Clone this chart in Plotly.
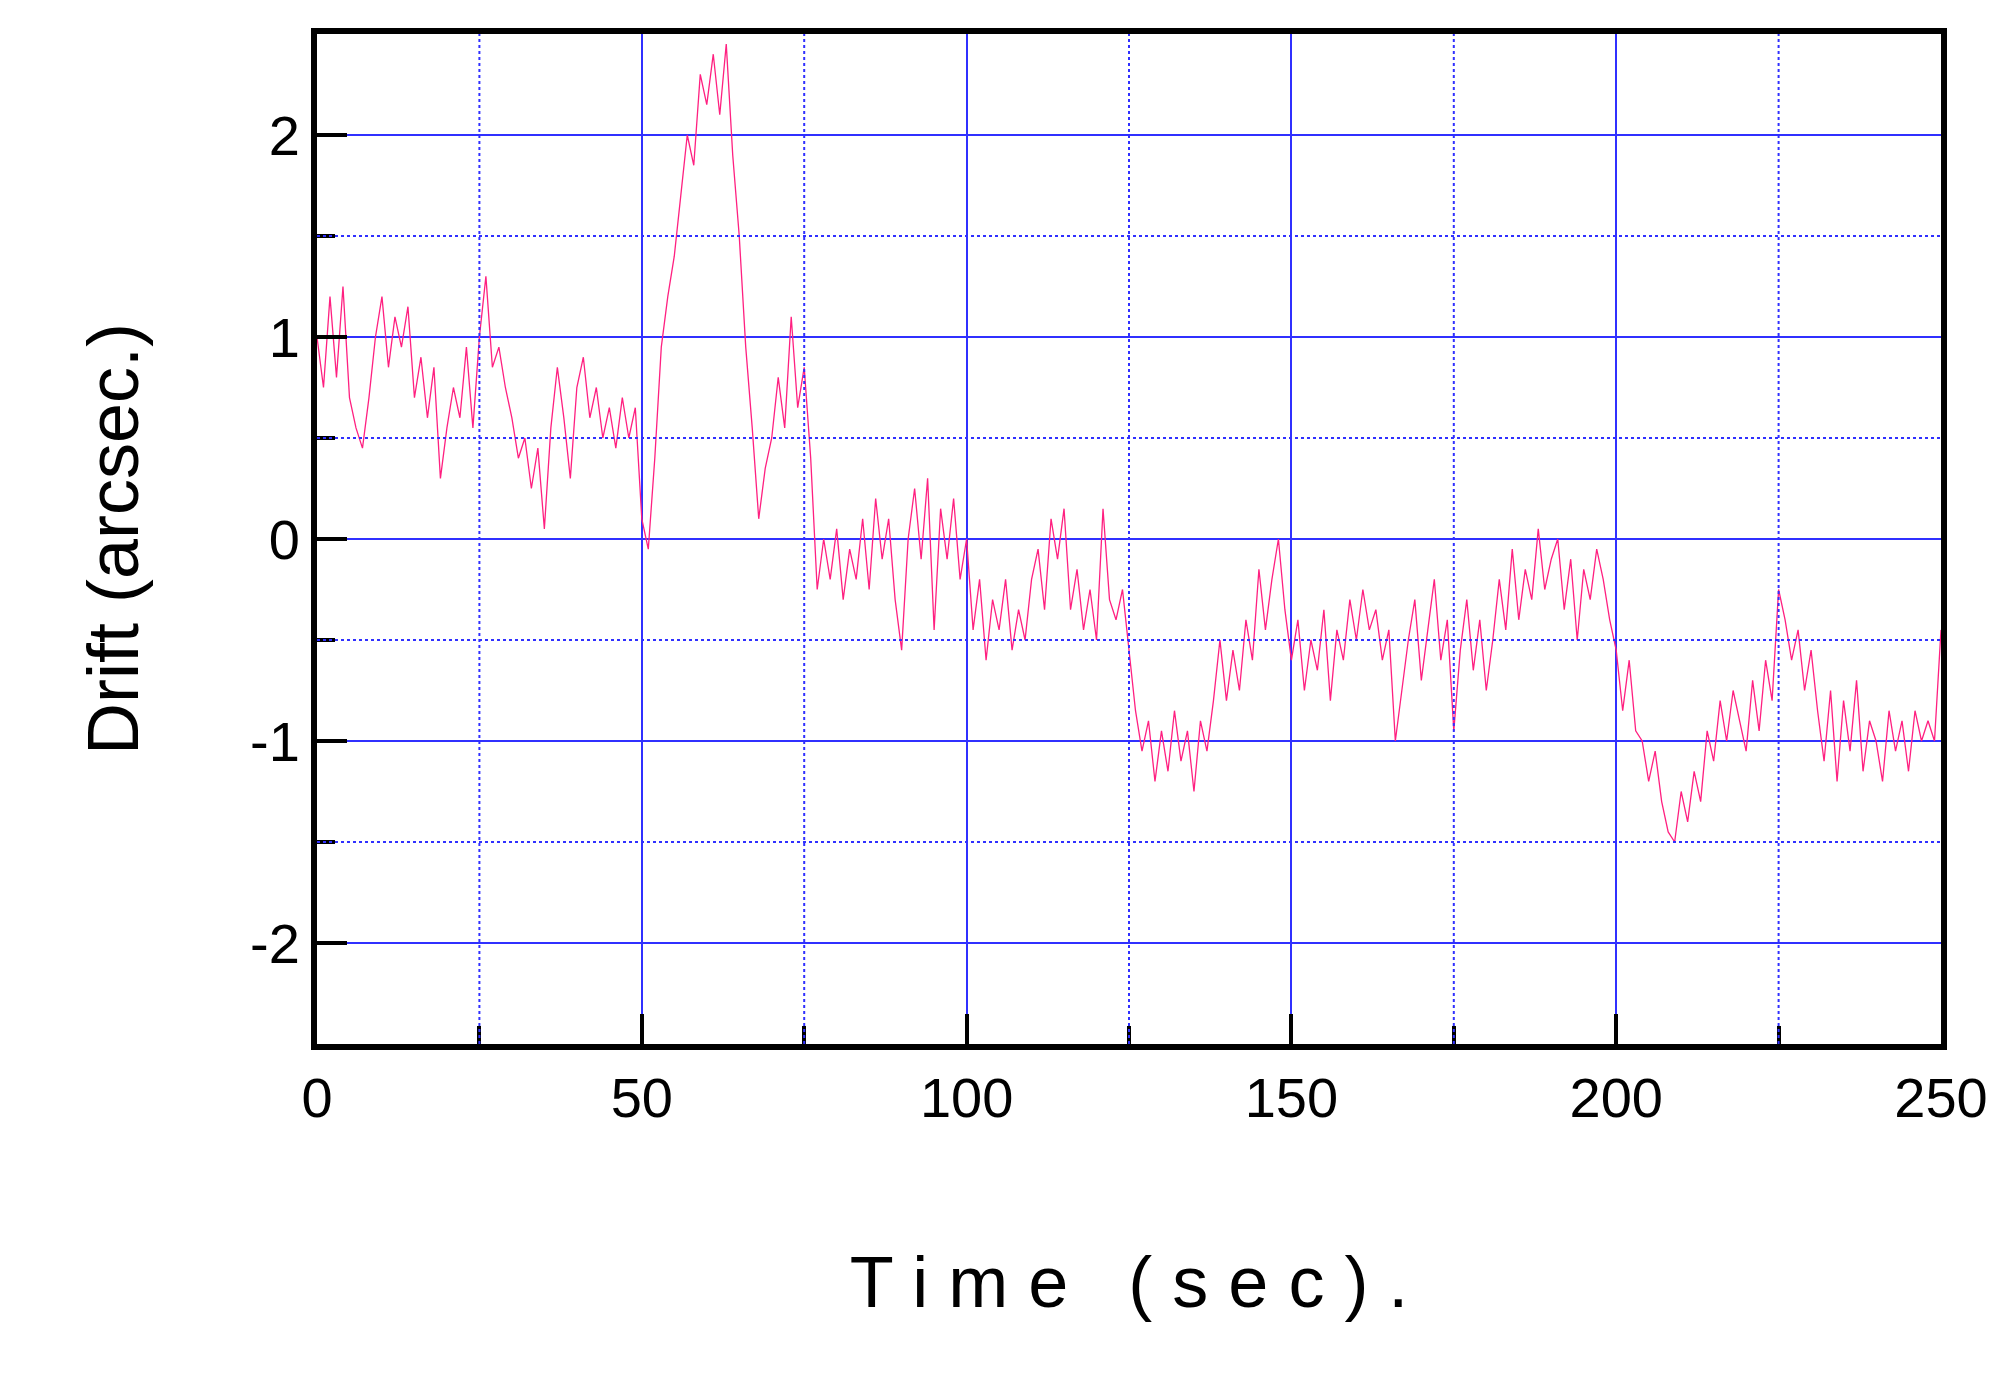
import plotly.graph_objects as go

# drift samples, one per second
time_s = list(range(0, 251))
drift = [
    1.0, 0.75, 1.2, 0.8, 1.25, 0.7, 0.55, 0.45, 0.7, 1.0,
    1.2, 0.85, 1.1, 0.95, 1.15, 0.7, 0.9, 0.6, 0.85, 0.3,
    0.55, 0.75, 0.6, 0.95, 0.55, 1.0, 1.3, 0.85, 0.95, 0.75,
    0.6, 0.4, 0.5, 0.25, 0.45, 0.05, 0.55, 0.85, 0.6, 0.3,
    0.75, 0.9, 0.6, 0.75, 0.5, 0.65, 0.45, 0.7, 0.5, 0.65,
    0.1, -0.05, 0.4, 0.95, 1.2, 1.4, 1.7, 2.0, 1.85, 2.3,
    2.15, 2.4, 2.1, 2.45, 1.9, 1.5, 0.95, 0.55, 0.1, 0.35,
    0.5, 0.8, 0.55, 1.1, 0.65, 0.85, 0.4, -0.25, 0.0, -0.2,
    0.05, -0.3, -0.05, -0.2, 0.1, -0.25, 0.2, -0.1, 0.1, -0.3,
    -0.55, 0.0, 0.25, -0.1, 0.3, -0.45, 0.15, -0.1, 0.2, -0.2,
    0.0, -0.45, -0.2, -0.6, -0.3, -0.45, -0.2, -0.55, -0.35, -0.5,
    -0.2, -0.05, -0.35, 0.1, -0.1, 0.15, -0.35, -0.15, -0.45, -0.25,
    -0.5, 0.15, -0.3, -0.4, -0.25, -0.55, -0.85, -1.05, -0.9, -1.2,
    -0.95, -1.15, -0.85, -1.1, -0.95, -1.25, -0.9, -1.05, -0.8, -0.5,
    -0.8, -0.55, -0.75, -0.4, -0.6, -0.15, -0.45, -0.2, 0.0, -0.35,
    -0.6, -0.4, -0.75, -0.5, -0.65, -0.35, -0.8, -0.45, -0.6, -0.3,
    -0.5, -0.25, -0.45, -0.35, -0.6, -0.45, -1.0, -0.75, -0.5, -0.3,
    -0.7, -0.45, -0.2, -0.6, -0.4, -0.95, -0.55, -0.3, -0.65, -0.4,
    -0.75, -0.5, -0.2, -0.45, -0.05, -0.4, -0.15, -0.3, 0.05, -0.25,
    -0.1, 0.0, -0.35, -0.1, -0.5, -0.15, -0.3, -0.05, -0.2, -0.4,
    -0.55, -0.85, -0.6, -0.95, -1.0, -1.2, -1.05, -1.3, -1.45, -1.5,
    -1.25, -1.4, -1.15, -1.3, -0.95, -1.1, -0.8, -1.0, -0.75, -0.9,
    -1.05, -0.7, -0.95, -0.6, -0.8, -0.25, -0.4, -0.6, -0.45, -0.75,
    -0.55, -0.85, -1.1, -0.75, -1.2, -0.8, -1.05, -0.7, -1.15, -0.9,
    -1.0, -1.2, -0.85, -1.05, -0.9, -1.15, -0.85, -1.0, -0.9, -1.0,
    -0.45,
]

x_ticks = [0, 50, 100, 150, 200, 250]
y_ticks = [-2, -1, 0, 1, 2]
y_labels = ['-2', '-1', '0', '1', '2']

fig = go.Figure()
fig.add_trace(go.Scatter(x=time_s, y=drift, mode='lines',
                         line=dict(color='#ff2080', width=1.3)))

# minor dotted grid at 25 s / 0.5 arcsec
for xv in [25, 75, 125, 175, 225]:
    fig.add_vline(x=xv, line=dict(color='#3030ff', width=2, dash='dot'))
for yv in [-1.5, -0.5, 0.5, 1.5]:
    fig.add_hline(y=yv, line=dict(color='#3030ff', width=2, dash='dot'))

fam = 'Liberation Sans, Arial'
font = dict(family=fam, size=56, color='black')
fig.update_xaxes(range=[0, 250], tickvals=x_ticks, showgrid=True, gridcolor='#3030ff',
                 gridwidth=1.5, zeroline=False, showline=True, linecolor='black',
                 linewidth=6, mirror=True, ticks='inside', ticklen=30,
                 tickwidth=4, tickcolor='black', tickfont=font,
                 minor=dict(dtick=25, ticks='inside', ticklen=18, tickwidth=4,
                            tickcolor='black', showgrid=False),
                 title=dict(text='T i m e   ( s e c ) .', font=dict(family=fam, size=72, color='black'),
                            standoff=130))
fig.update_yaxes(range=[-2.5, 2.5], tickvals=y_ticks, ticktext=y_labels, showgrid=True,
                 gridcolor='#3030ff', gridwidth=1.5, zeroline=False, showline=True,
                 linecolor='black', linewidth=6, mirror=True, ticks='inside', ticklen=30,
                 tickwidth=4, tickcolor='black', tickfont=font,
                 minor=dict(dtick=0.5, ticks='inside', ticklen=18, tickwidth=4,
                            tickcolor='black', showgrid=False),
                 title=dict(text='Drift (arcsec.)', font=dict(family=fam, size=72, color='black'),
                            standoff=90))

fig.update_layout(width=2007, height=1376, plot_bgcolor='white', paper_bgcolor='white',
                  showlegend=False, margin=dict(l=309, r=74, t=26, b=340))
fig.write_html("out.html")
